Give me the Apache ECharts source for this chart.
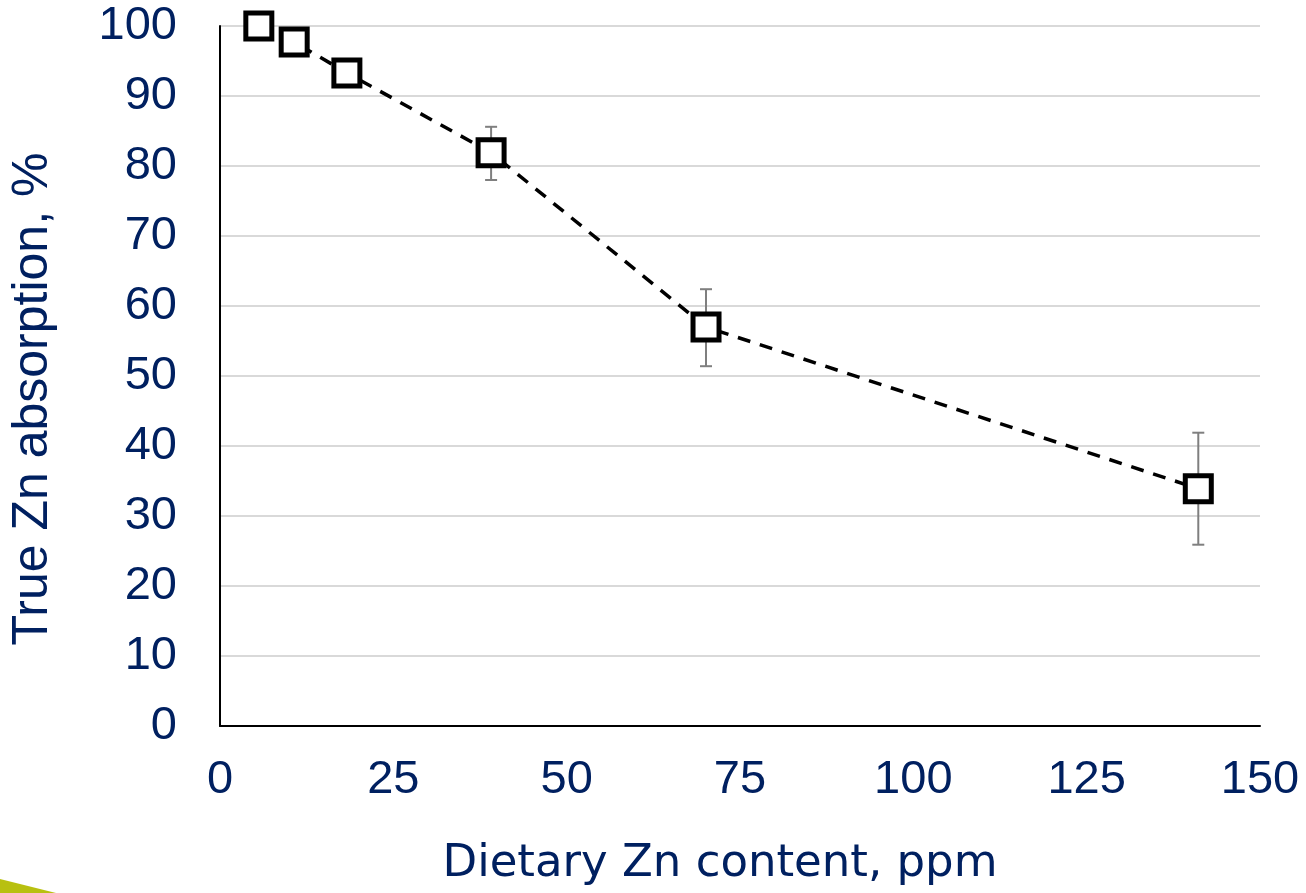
<!DOCTYPE html>
<html>
<head>
<meta charset="utf-8">
<script src="https://cdn.jsdelivr.net/npm/echarts@6/dist/echarts.min.js"></script>
<style>
  html, body { margin: 0; padding: 0; background: #fff; }
  #chart { width: 1306px; height: 893px; }
</style>
</head>
<body>
<div id="chart"></div>
<script>
// dietary Zn (ppm) vs true Zn absorption (%)
var dietZn = [5.6, 10.7, 18.3, 39.1, 70.1, 141.1];
var absorption = [100, 97.7, 93.3, 81.9, 57.0, 33.9];
var errLow = [null, null, null, 78.0, 51.4, 25.9];
var errHigh = [null, null, null, 85.6, 62.4, 41.9];

var xTicks = [0, 25, 50, 75, 100, 125, 150];
var yTicks = [0, 10, 20, 30, 40, 50, 60, 70, 80, 90, 100];

var navy = '#002060';

var chart = echarts.init(document.getElementById('chart'));

var pts = [], bars = [];
for (var i = 0; i < dietZn.length; i++) {
    pts.push([dietZn[i], absorption[i]]);
    if (errLow[i] != null) bars.push([dietZn[i], errLow[i], errHigh[i]]);
}

var option = {
    backgroundColor: '#fff',
    animation: false,
    grid: { left: 220, right: 46, top: 26, bottom: 167, outerBoundsMode: 'none', containLabel: false },
    xAxis: {
        type: 'value',
        min: xTicks[0],
        max: xTicks[xTicks.length - 1],
        interval: 25,
        name: 'Dietary Zn content, ppm',
        nameLocation: 'middle',
        nameGap: 116,
        nameTextStyle: { color: navy, fontSize: 45, fontFamily: 'DejaVu Sans', padding: [0, 40, 0, 0] },
        axisLine: { show: true, lineStyle: { color: '#000', width: 2 } },
        axisTick: { show: false },
        splitLine: { show: false },
        axisLabel: { color: navy, fontSize: 47, fontFamily: 'Liberation Sans', margin: 31 }
    },
    yAxis: {
        type: 'value',
        min: yTicks[0],
        max: yTicks[yTicks.length - 1],
        interval: 10,
        name: 'True Zn absorption, %',
        nameLocation: 'middle',
        nameGap: 162,
        nameTextStyle: { color: navy, fontSize: 50, fontFamily: 'Liberation Sans', padding: [0, 46, 0, 0] },
        axisLine: { show: true, lineStyle: { color: '#000', width: 2 } },
        axisTick: { show: false },
        splitLine: { show: true, lineStyle: { color: '#d9d9d9', width: 2 } },
        axisLabel: { color: navy, fontSize: 47, fontFamily: 'Liberation Sans', margin: 43 }
    },
    graphic: [{
        type: 'polygon',
        shape: { points: [[0, 879], [56, 893], [0, 893]] },
        style: { fill: '#b8c010' }
    }],
    series: [
        {
            // error bars under the markers
            type: 'custom',
            z: 1,
            data: bars,
            renderItem: function (params, api) {
                var x = api.value(0);
                var lo = api.coord([x, api.value(1)]);
                var hi = api.coord([x, api.value(2)]);
                var cap = 6;
                var st = { stroke: '#7f7f7f', lineWidth: 2 };
                return {
                    type: 'group',
                    children: [
                        { type: 'line', shape: { x1: lo[0], y1: lo[1], x2: hi[0], y2: hi[1] }, style: st },
                        { type: 'line', shape: { x1: lo[0] - cap, y1: lo[1], x2: lo[0] + cap, y2: lo[1] }, style: st },
                        { type: 'line', shape: { x1: hi[0] - cap, y1: hi[1], x2: hi[0] + cap, y2: hi[1] }, style: st }
                    ]
                };
            }
        },
        {
            type: 'line',
            z: 3,
            data: pts,
            symbol: 'rect',
            symbolSize: 26,
            lineStyle: { color: '#000', width: 3.5, type: [13, 10] },
            itemStyle: { color: '#fff', borderColor: '#000', borderWidth: 5 }
        }
    ]
};

chart.setOption(option);
</script>
</body>
</html>
